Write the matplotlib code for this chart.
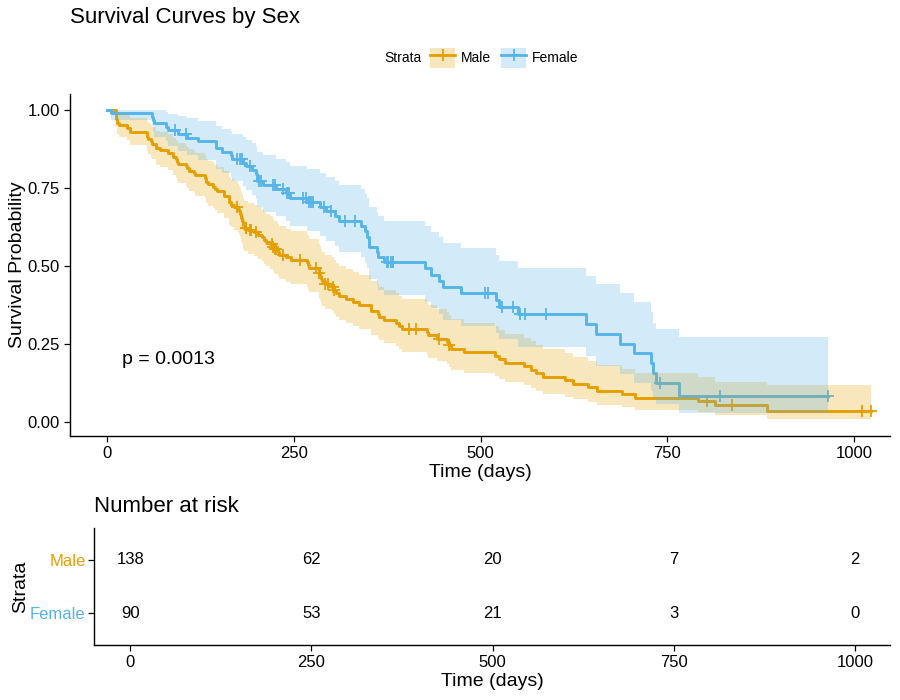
import numpy as np
import matplotlib
matplotlib.use("Agg")
import matplotlib.pyplot as plt
from matplotlib.patches import Patch
from matplotlib.lines import Line2D

plt.rcParams['font.family'] = ['Liberation Sans', 'DejaVu Sans']

# Kaplan-Meier estimates (Male)
male_time = [11, 12, 13, 15, 26, 30, 31, 53, 54, 59, 60, 65, 71, 81, 88, 92, 93, 95, 105, 107,
             110, 116, 118, 131, 132, 135, 142, 144, 147, 156, 163, 166, 170, 175, 176, 177, 179, 180, 181, 183,
             189, 197, 202, 207, 210, 212, 218, 222, 223, 229, 230, 239, 246, 267, 269, 270, 283, 284, 285, 286,
             288, 291, 301, 303, 306, 310, 320, 329, 337, 353, 363, 364, 371, 387, 390, 394, 428, 429, 442, 455,
             457, 460, 477, 519, 524, 533, 558, 567, 574, 583, 613, 624, 643, 655, 689, 707, 791, 814, 883]
male_surv = [0.9783, 0.9710, 0.9565, 0.9493, 0.9420, 0.9348, 0.9275, 0.9130, 0.9058, 0.8986,
             0.8913, 0.8768, 0.8696, 0.8623, 0.8478, 0.8406, 0.8333, 0.8261, 0.8188, 0.8116,
             0.8043, 0.7971, 0.7899, 0.7826, 0.7681, 0.7609, 0.7536, 0.7464, 0.7391, 0.7246,
             0.7029, 0.6957, 0.6884, 0.6811, 0.6738, 0.6664, 0.6518, 0.6445, 0.6298, 0.6225,
             0.6150, 0.6073, 0.5995, 0.5917, 0.5839, 0.5762, 0.5684, 0.5605, 0.5525, 0.5442,
             0.5360, 0.5276, 0.5192, 0.5107, 0.5022, 0.4937, 0.4850, 0.4764, 0.4676, 0.4587,
             0.4499, 0.4411, 0.4319, 0.4225, 0.4129, 0.4033, 0.3937, 0.3841, 0.3745, 0.3553,
             0.3457, 0.3361, 0.3265, 0.3169, 0.3073, 0.2977, 0.2874, 0.2771, 0.2669, 0.2562,
             0.2455, 0.2344, 0.2232, 0.2121, 0.2009, 0.1897, 0.1786, 0.1674, 0.1562, 0.1451,
             0.1339, 0.1228, 0.1116, 0.1004, 0.0893, 0.0781, 0.0670, 0.0536, 0.0357]
male_lower = [0.9542, 0.9434, 0.9231, 0.9134, 0.9038, 0.8945, 0.8853, 0.8672, 0.8583, 0.8496,
              0.8409, 0.8237, 0.8152, 0.8067, 0.7900, 0.7817, 0.7734, 0.7652, 0.7570, 0.7489,
              0.7408, 0.7328, 0.7247, 0.7167, 0.7008, 0.6929, 0.6851, 0.6772, 0.6694, 0.6538,
              0.6306, 0.6230, 0.6153, 0.6076, 0.5999, 0.5922, 0.5769, 0.5693, 0.5541, 0.5466,
              0.5388, 0.5309, 0.5228, 0.5148, 0.5068, 0.4988, 0.4909, 0.4829, 0.4747, 0.4663,
              0.4579, 0.4494, 0.4409, 0.4323, 0.4238, 0.4152, 0.4065, 0.3978, 0.3889, 0.3802,
              0.3715, 0.3628, 0.3538, 0.3445, 0.3350, 0.3256, 0.3162, 0.3069, 0.2976, 0.2791,
              0.2700, 0.2609, 0.2519, 0.2429, 0.2339, 0.2250, 0.2155, 0.2060, 0.1965, 0.1868,
              0.1770, 0.1669, 0.1569, 0.1469, 0.1371, 0.1275, 0.1179, 0.1085, 0.0992, 0.0900,
              0.0810, 0.0722, 0.0636, 0.0552, 0.0470, 0.0390, 0.0314, 0.0223, 0.0109]
male_upper = [1.000, 0.999, 0.991, 0.987, 0.982, 0.977, 0.972, 0.961, 0.956, 0.950,
              0.945, 0.933, 0.928, 0.922, 0.910, 0.904, 0.898, 0.892, 0.886, 0.880,
              0.873, 0.867, 0.861, 0.855, 0.842, 0.835, 0.829, 0.823, 0.816, 0.803,
              0.783, 0.777, 0.770, 0.763, 0.757, 0.750, 0.736, 0.730, 0.716, 0.709,
              0.702, 0.695, 0.687, 0.680, 0.673, 0.665, 0.658, 0.651, 0.643, 0.635,
              0.627, 0.619, 0.611, 0.603, 0.595, 0.587, 0.579, 0.570, 0.562, 0.553,
              0.545, 0.536, 0.527, 0.518, 0.509, 0.500, 0.490, 0.481, 0.471, 0.452,
              0.443, 0.433, 0.423, 0.413, 0.404, 0.394, 0.383, 0.373, 0.362, 0.351,
              0.341, 0.329, 0.318, 0.306, 0.294, 0.282, 0.270, 0.258, 0.246, 0.234,
              0.221, 0.209, 0.196, 0.183, 0.170, 0.156, 0.143, 0.128, 0.117]
male_censor = [173, 185, 186, 191, 192, 199, 221, 222, 225, 226, 235, 258, 279, 284, 292, 296,
               302, 304, 404, 413, 444, 458, 803, 837, 1010, 1022]
male_end = 1022

# Female
female_time = [5, 60, 61, 62, 79, 81, 95, 107, 122, 145, 153, 166, 167, 182, 186, 194, 199, 201, 208, 226,
               239, 245, 268, 285, 293, 305, 310, 340, 345, 348, 350, 351, 361, 363, 371, 426, 433, 444, 450, 473,
               520, 524, 550, 641, 654, 687, 705, 728, 731, 735, 765]
female_surv = [0.9889, 0.9778, 0.9667, 0.9556, 0.9444, 0.9333, 0.9221, 0.9107, 0.8993, 0.8766,
               0.8652, 0.8538, 0.8424, 0.8305, 0.8187, 0.8066, 0.7946, 0.7705, 0.7581, 0.7452,
               0.7322, 0.7186, 0.7045, 0.6895, 0.6742, 0.6585, 0.6428, 0.6264, 0.6099, 0.5934,
               0.5769, 0.5604, 0.5439, 0.5274, 0.5109, 0.4913, 0.4716, 0.4520, 0.4323, 0.4127,
               0.3909, 0.3692, 0.3446, 0.3133, 0.2820, 0.2507, 0.2194, 0.1880, 0.1567, 0.1254, 0.0836]
female_lower = [0.9675, 0.9478, 0.9303, 0.9139, 0.8983, 0.8832, 0.8683, 0.8535, 0.8390, 0.8108,
                0.7970, 0.7834, 0.7699, 0.7559, 0.7420, 0.7280, 0.7142, 0.6869, 0.6729, 0.6584,
                0.6438, 0.6287, 0.6129, 0.5962, 0.5791, 0.5618, 0.5447, 0.5267, 0.5089, 0.4913,
                0.4739, 0.4566, 0.4395, 0.4226, 0.4059, 0.3855, 0.3653, 0.3453, 0.3258, 0.3066,
                0.2852, 0.2645, 0.2410, 0.2099, 0.1802, 0.1520, 0.1254, 0.1005, 0.0775, 0.0563, 0.0301]
female_upper = [1.000, 1.000, 1.000, 0.999, 0.993, 0.986, 0.979, 0.972, 0.964, 0.948,
                0.939, 0.931, 0.922, 0.913, 0.903, 0.894, 0.884, 0.864, 0.854, 0.843,
                0.833, 0.821, 0.810, 0.798, 0.785, 0.772, 0.759, 0.745, 0.731, 0.717,
                0.702, 0.688, 0.673, 0.658, 0.643, 0.626, 0.609, 0.592, 0.574, 0.556,
                0.536, 0.515, 0.493, 0.468, 0.441, 0.414, 0.384, 0.352, 0.317, 0.298, 0.272]
female_censor = [90, 105, 174, 177, 180, 191, 203, 206, 222, 225, 235, 241, 243, 262, 266, 270, 273, 276,
                 290, 300, 318, 332, 374, 376, 380, 382, 383, 506, 510, 528, 543, 552, 559, 588, 740, 821, 965]
female_end = 965

risk_times = [0, 250, 500, 750, 1000]
risk_male = [138, 62, 20, 7, 2]
risk_female = [90, 53, 21, 3, 0]
p_text = "p = 0.0013"

col_m = "#E69F00"
col_f = "#56B4E9"

fig = plt.figure(figsize=(9, 7), dpi=100)
ax = fig.add_axes([70/900, 1-436/700, 820/900, 342/700])


def draw_group(ax, t, s, lo, hi, cens, t_end, color):
    tt = np.r_[0, t, t_end]
    ss = np.r_[1, s, s[-1]]
    ll = np.r_[1, lo, lo[-1]]
    uu = np.r_[1, hi, hi[-1]]
    ax.step(tt, ss, where='post', color=color, lw=2.1, zorder=2)
    idx = np.searchsorted(tt, cens, side='right') - 1
    ax.plot(cens, ss[idx], ls='none', marker='+', ms=8, mew=1.3, color=color, zorder=2)
    ax.fill_between(tt, ll, uu, step='post', color=color, alpha=0.26, lw=0, zorder=3)


draw_group(ax, male_time, male_surv, male_lower, male_upper, male_censor, male_end, col_m)
draw_group(ax, female_time, female_surv, female_lower, female_upper, female_censor, female_end, col_f)

ax.text(20, 0.2, p_text, fontsize=14, ha='left', va='center')

ax.set_xlim(-50, 1048)
ax.set_ylim(-0.045, 1.05)
ax.set_xticks(risk_times)
ax.set_yticks([0, 0.25, 0.5, 0.75, 1.0])
ax.set_yticklabels(["0.00", "0.25", "0.50", "0.75", "1.00"])
ax.set_xlabel("Time (days)", fontsize=14, labelpad=2)
ax.set_ylabel("Survival Probability", fontsize=14, labelpad=1)
for side in ['top', 'right']:
    ax.spines[side].set_visible(False)
for side in ['left', 'bottom']:
    ax.spines[side].set_linewidth(1.0)
ax.tick_params(labelsize=12, colors='black', length=4, width=0.9)

fig.text(70/900, 1-18/700, "Survival Curves by Sex", fontsize=16, ha='left', va='center')

# legend
fig.text(384/900, 1-58/700, "Strata", fontsize=10, ha='left', va='center')
handles = [(Patch(facecolor=col_m, alpha=0.26, lw=0), Line2D([], [], color=col_m, lw=2, marker='+', ms=8, mew=1.3)),
           (Patch(facecolor=col_f, alpha=0.26, lw=0), Line2D([], [], color=col_f, lw=2, marker='+', ms=8, mew=1.3))]
fig.legend(handles, ["Male", "Female"], loc='center left', bbox_to_anchor=(430/900, 1-58/700),
           ncol=2, frameon=False, fontsize=10, borderpad=0, borderaxespad=0,
           handlelength=1.8, handleheight=1.8, handletextpad=0.45, columnspacing=0.7)

# risk table
at = fig.add_axes([94/900, 1-645/700, 796/900, 117/700])
at.set_xlim(-50, 1048)
at.set_ylim(-0.6, 1.6)
for t, nm, nf in zip(risk_times, risk_male, risk_female):
    at.text(t, 1, str(nm), fontsize=12, ha='center', va='center')
    at.text(t, 0, str(nf), fontsize=12, ha='center', va='center')
at.set_xticks(risk_times)
at.set_yticks([1, 0])
at.set_yticklabels(["Male", "Female"])
at.get_yticklabels()[0].set_color(col_m)
at.get_yticklabels()[1].set_color(col_f)
at.set_xlabel("Time (days)", fontsize=14, labelpad=2)
at.set_ylabel("Strata", fontsize=14, labelpad=1)
for side in ['top', 'right']:
    at.spines[side].set_visible(False)
for side in ['left', 'bottom']:
    at.spines[side].set_linewidth(1.0)
at.tick_params(labelsize=12, length=4, width=0.9)
at.tick_params(axis='y', pad=2)
at.tick_params(axis='x', colors='black')
at.text(0, 1 + 21/117, "Number at risk", transform=at.transAxes, fontsize=16, ha='left', va='center')

fig.savefig("out.png", dpi=100)
